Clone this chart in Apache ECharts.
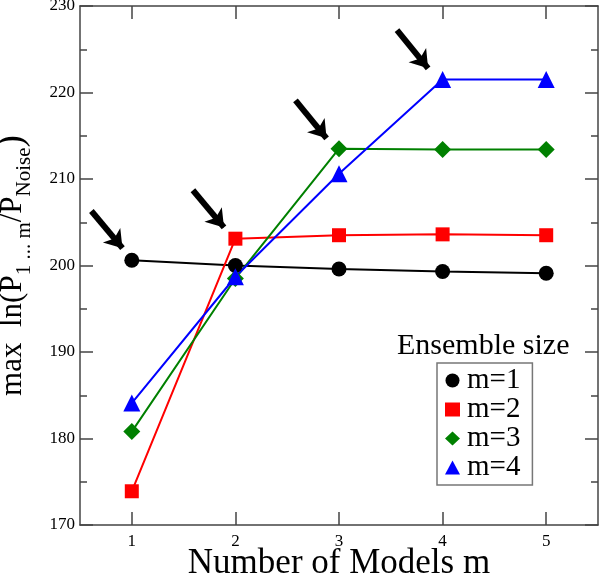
<!DOCTYPE html>
<html>
<head>
<meta charset="utf-8">
<script src="https://cdn.jsdelivr.net/npm/echarts@6/dist/echarts.min.js"></script>
<style>html,body{margin:0;padding:0;background:#fff;}#c{width:600px;height:577px;}</style>
</head>
<body>
<div id="c"></div>
<script>
const xValues = [1, 2, 3, 4, 5];
const m1 = [200.6, 200.0, 199.6, 199.3, 199.1];
const m2 = [173.9, 203.1, 203.5, 203.6, 203.5];
const m3 = [180.8, 198.5, 213.5, 213.4, 213.4];
const m4 = [184.1, 198.7, 210.6, 221.5, 221.5];
const seriesNames = ['m=1', 'm=2', 'm=3', 'm=4'];
const yTicks = [170, 180, 190, 200, 210, 220, 230];
// arrows: [tailX, tailY, tipX, tipY] in data units
const arrows = [
  [0.61, 206.3, 0.91, 202.0],
  [1.59, 208.7, 1.89, 204.4],
  [2.58, 219.1, 2.88, 214.7],
  [3.56, 227.2, 3.86, 222.8]
];

const FONT = 'Liberation Serif';
const chart = echarts.init(document.getElementById('c'), null, {renderer: 'canvas'});
const pair = (xs, ys) => xs.map((x, i) => [x, ys[i]]);
const axisLineStyle = {color: '#444', width: 1.5};

const mk = (name, data, color, symbol, size) => ({
  name, type: 'line', data: pair(xValues, data),
  symbol, symbolSize: size,
  lineStyle: {color, width: 2},
  itemStyle: {color},
  z: 3
});

const s1 = mk('m=1', m1, '#000000', 'circle', 15);
s1.markLine = {
  silent: true,
  symbol: ['none', 'arrow'],
  symbolSize: 17,
  label: {show: false},
  lineStyle: {color: '#000', width: 6, type: 'solid'},
  emphasis: {disabled: true},
  data: arrows.map(a => [{coord: [a[0], a[1]]}, {coord: [a[2], a[3]]}])
};

chart.setOption({
  animation: false,
  backgroundColor: '#fff',
  textStyle: {fontFamily: FONT},
  grid: {left: 80, right: 2, top: 6, bottom: 52, containLabel: false, outerBoundsMode: 'none'},
  title: {
    text: 'Ensemble size', left: 392, top: 326,
    textStyle: {fontFamily: FONT, fontSize: 30, fontWeight: 'normal', color: '#000'}
  },
  legend: {
    orient: 'vertical', left: 437, top: 363,
    data: [
      {name: 'm=1', icon: 'circle'},
      {name: 'm=2', icon: 'rect'},
      {name: 'm=3', icon: 'diamond'},
      {name: 'm=4', icon: 'triangle'}
    ],
    itemWidth: 15, itemHeight: 14, itemGap: 0,
    padding: [3, 12, 3, 8],
    borderColor: '#777', borderWidth: 1.5,
    textStyle: {fontFamily: FONT, fontSize: 29, lineHeight: 28.5, color: '#000', padding: [0, 0, 0, 2]}
  },
  xAxis: [{
    type: 'value', min: 0.5, max: 5.5,
    name: 'Number of Models m', nameLocation: 'middle', nameGap: 21, nameMoveOverlap: false,
    nameTextStyle: {fontFamily: FONT, fontSize: 35, color: '#000'},
    axisLine: {show: true, onZero: false, lineStyle: axisLineStyle},
    axisTick: {show: true, inside: true, length: 13, customValues: xValues, lineStyle: axisLineStyle},
    axisLabel: {customValues: xValues, fontFamily: FONT, fontSize: 17, color: '#000', margin: 8},
    splitLine: {show: false}
  }, {
    type: 'value', min: 0.5, max: 5.5, position: 'top',
    axisLine: {show: true, onZero: false, lineStyle: axisLineStyle},
    axisTick: {show: true, inside: true, length: 13, customValues: xValues, lineStyle: axisLineStyle},
    axisLabel: {show: false},
    splitLine: {show: false}
  }],
  yAxis: [{
    type: 'value', min: 170, max: 230, interval: 10,
    name: 'max  ln(P{sub|1 ... m}/P{sub|Noise}{big|)}', nameLocation: 'middle', nameGap: 45,
    nameRotate: 90,
    nameTextStyle: {
      fontFamily: FONT, fontSize: 31, color: '#000',
      rich: {
        sub: {fontFamily: FONT, fontSize: 21, color: '#000', verticalAlign: 'bottom', padding: [24, 0, 0, 0]},
        big: {fontFamily: FONT, fontSize: 37, color: '#000'}
      }
    },
    axisLine: {show: true, onZero: false, lineStyle: axisLineStyle},
    axisTick: {show: true, inside: true, length: 13, lineStyle: axisLineStyle},
    minorTick: {show: true, splitNumber: 2, length: 7, lineStyle: axisLineStyle},
    axisLabel: {fontFamily: FONT, fontSize: 17, color: '#000', margin: 5, customValues: yTicks},
    splitLine: {show: false}
  }, {
    type: 'value', min: 170, max: 230, interval: 10, position: 'right',
    axisLine: {show: true, onZero: false, lineStyle: axisLineStyle},
    axisTick: {show: true, inside: true, length: 13, lineStyle: axisLineStyle},
    minorTick: {show: true, splitNumber: 2, length: 7, lineStyle: axisLineStyle},
    axisLabel: {show: false},
    splitLine: {show: false}
  }],
  series: [
    s1,
    mk('m=2', m2, '#ff0000', 'rect', 14),
    mk('m=3', m3, '#008000', 'diamond', 17),
    mk('m=4', m4, '#0000ff', 'triangle', 17)
  ]
});
</script>
</body>
</html>
